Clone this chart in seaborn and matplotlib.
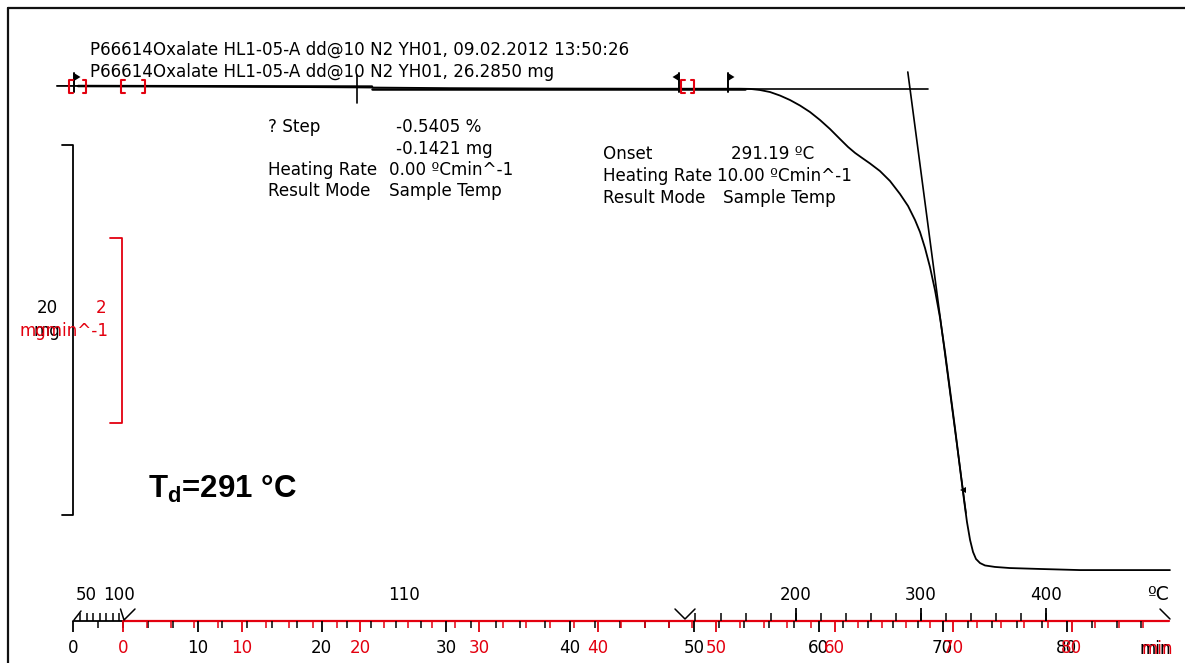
import numpy as np
import matplotlib
matplotlib.use("Agg")
import matplotlib.pyplot as plt
import matplotlib.transforms as mtransforms
from matplotlib.lines import Line2D
import seaborn as sns

# ---------------- data ----------------
# TGA mass signal against the instrument clock (min)
time_min = [-5.6, -1.97, 6.47, 14.90, 19.71, 27.55, 35.98, 44.42, 50.32,
            52.01, 52.86, 53.70, 54.55, 55.39, 56.23, 57.08, 57.92, 58.76,
            59.61, 60.45, 61.13, 61.72, 62.31, 62.98, 63.82, 64.67, 65.51,
            66.19, 66.78, 67.20, 67.62, 68.04, 68.46, 68.89, 69.31, 69.73,
            70.15, 70.57, 70.91, 71.16, 71.42, 71.67, 71.92, 72.26, 72.68,
            73.52, 74.78, 77.32, 80.69, 88.28]
mass_mg = [26.29, 26.29, 26.27, 26.23, 26.21, 26.17, 26.15, 26.14, 26.14,
           26.14, 26.13, 26.07, 25.96, 25.77, 25.53, 25.23, 24.88, 24.45,
           23.96, 23.42, 22.99, 22.67, 22.40, 22.10, 21.69, 21.15, 20.45,
           19.80, 19.04, 18.39, 17.53, 16.50, 15.26, 13.75, 11.91, 9.85,
           7.80, 5.64, 3.91, 2.72, 1.75, 1.10, 0.72, 0.50, 0.37,
           0.29, 0.23, 0.18, 0.12, 0.12]

# sample temperature program (time min -> °C)
prog_time = [-4.2, 0.2, 47.2, 89.0]
prog_temp = [30.0, 110.0, 110.0, 505.4]

# second (black) clock: t_red = clock_offset + clock_factor * t_black
clock_offset, clock_factor = -4.217, 1.0476

# evaluation results
mass_initial = 26.2850
step_level = 26.14
onset_temp = 291.19
tangent_slope = -4.86          # mg/min at the inflection

temp_major = [200, 300, 400]
temp_minor_ramp = list(range(120, 420, 20))
temp_first = [40, 50, 60, 70, 80, 90, 100]
temp_first_labels = [50, 100]
min_labels = list(range(0, 90, 10))
min_minor = list(range(0, 88, 2))

header1 = "P66614Oxalate HL1-05-A dd@10 N2 YH01, 09.02.2012 13:50:26"
header2 = "P66614Oxalate HL1-05-A dd@10 N2 YH01, 26.2850 mg"

# ---------------- figure ----------------
W, H = 1185, 663
sns.set_theme(style="white")
plt.rcParams['font.family'] = ['DejaVu Sans']
plt.rcParams['text.color'] = 'black'
RED = '#e3000f'
FS = 12.1

fig = plt.figure(figsize=(W / 100, H / 100), dpi=100)
fig.patch.set_facecolor('white')
ax = fig.add_axes([0, 0, 1, 1])
ax.set_axis_off()

x0_px, px_per_min = 123.3, 11.856
y0_px, px_per_mg = 572.3, 18.5
ax.set_xlim(-x0_px / px_per_min, (W - x0_px) / px_per_min)
ax.set_ylim((y0_px - H) / px_per_mg, y0_px / px_per_mg)


def px2t(px):
    return (px - x0_px) / px_per_min


def py2m(py):
    return (y0_px - py) / px_per_mg


def fy(py):
    return 1 - py / H


def ftext(px, py, s, **kw):
    kw.setdefault('fontsize', FS)
    kw.setdefault('va', 'center')
    kw.setdefault('color', 'black')
    return fig.text(px / W, 1 - py / H, s, **kw)


bt = mtransforms.blended_transform_factory(ax.transData, ax.transAxes)

# frame
fig.add_artist(Line2D([8.3 / W, 1], [fy(8.3), fy(8.3)], color='#111111', lw=1.6,
                      transform=fig.transFigure))
fig.add_artist(Line2D([8.3 / W, 8.3 / W], [0, fy(8.3)], color='#111111', lw=1.6,
                      transform=fig.transFigure))

# header
ftext(90, 50, header1)
ftext(90, 72, header2)

# main curve
sns.lineplot(x=time_min, y=mass_mg, ax=ax, color='black', lw=1.3,
             sort=False, estimator=None)

# step evaluation lines and midpoint cross
ax.plot([px2t(78), px2t(372)], [mass_initial, mass_initial - 0.03], color='black', lw=1.8)
ax.plot([px2t(372), px2t(745)], [step_level, step_level], color='black', lw=1.8)
t_mid = 19.71
ax.plot([t_mid, t_mid], [py2m(75), py2m(103)], color='black', lw=1.2)

# onset tangents
t_on = np.interp(onset_temp, prog_temp[2:], prog_time[2:])
ax.plot([px2t(710), px2t(928)], [step_level, step_level], color='black', lw=1.2)
m_top, m_bot = py2m(72), 3.2
ax.plot([t_on + (m_top - step_level) / tangent_slope,
         t_on + (m_bot - step_level) / tangent_slope],
        [m_top, m_bot], color='black', lw=1.2)
t_inf = t_on + (py2m(490) - step_level) / tangent_slope
ax.plot([t_inf], [py2m(490)], marker='<', color='black', ms=5, mew=0)


# flags
def flag(px, direction):
    t = px2t(px)
    ax.plot([t, t], [py2m(73), py2m(92)], color='black', lw=1.4)
    d = 6.5 / px_per_min * direction
    ax.fill([t, t + d, t], [py2m(73), py2m(77), py2m(81)], color='black', lw=0)


flag(74, 1)
flag(679, -1)
flag(728, 1)


# red evaluation brackets
def bracket(px_l, px_r):
    w = 3.5 / px_per_min
    top, bot = py2m(80), py2m(93)
    tl, tr = px2t(px_l), px2t(px_r)
    ax.plot([tl + w, tl, tl, tl + w], [top, top, bot, bot], color=RED, lw=1.5)
    ax.plot([tr - w, tr, tr, tr - w], [top, top, bot, bot], color=RED, lw=1.5)


bracket(69, 86)
bracket(121, 145)
bracket(681, 694)

# annotation blocks
for py, lab, val in [(127, "? Step", "-0.5405 %"), (149, "", "-0.1421 mg"),
                     (170, "Heating Rate", "0.00 ºCmin^-1"),
                     (191, "Result Mode", "Sample Temp")]:
    ftext(268, py, lab)
    ftext(396 if lab in ("? Step", "") else 389, py, val)

for py, lab, val, px in [(154, "Onset", "291.19 ºC", 731),
                         (176, "Heating Rate", "10.00 ºCmin^-1", 717),
                         (198, "Result Mode", "Sample Temp", 723)]:
    ftext(603, py, lab)
    ftext(px, py, val)

# scale bars
tb = px2t(73)
ax.plot([px2t(62), tb, tb, px2t(62)], [py2m(145), py2m(145), py2m(515), py2m(515)],
        color='black', lw=1.3)
tr_ = px2t(122)
ax.plot([px2t(110), tr_, tr_, px2t(110)], [py2m(238), py2m(238), py2m(423), py2m(423)],
        color=RED, lw=1.3)
ftext(47, 308, "20", ha='center')
ftext(47, 331, "mg", ha='center')
ftext(101, 308, "2", ha='center', color=RED)
ftext(64, 331, "mgmin^-1", ha='center', color=RED)

# decomposition temperature label
fig.text(148 / W, fy(498), r"T$_\mathregular{d}$=291 °C", fontsize=22.5,
         fontweight='bold', family='Liberation Sans', ha='left', va='baseline',
         color='black')

# ---------------- bottom scales ----------------
y_line = fy(620.7)
ax.plot([px2t(73), 0], [y_line, y_line], color='black', lw=1.3, transform=bt)
ax.plot([0, px2t(1169)], [y_line, y_line], color=RED, lw=1.6, transform=bt)

# black clock ticks
bm = [clock_offset + clock_factor * v for v in min_minor if v % 10]
bM = [clock_offset + clock_factor * v for v in min_labels]
ax.vlines(bm, fy(628), y_line, color='black', lw=1.1, transform=bt)
ax.vlines(bM, fy(632), y_line, color='black', lw=1.3, transform=bt)
for v, t in zip(min_labels, bM):
    ax.text(t, fy(648), str(v), transform=bt, ha='center', va='center',
            fontsize=FS, color='black')

# red clock ticks
ax.vlines([v for v in min_minor if v % 10], fy(628), y_line, color=RED, lw=1.1, transform=bt)
ax.vlines(min_labels, fy(632), y_line, color=RED, lw=1.3, transform=bt)
for v in min_labels:
    ax.text(v, fy(648), str(v), transform=bt, ha='center', va='center',
            fontsize=FS, color=RED)
ftext(1155, 649, "min", ha='center')
ftext(1157, 649, "min", ha='center', color=RED)

# temperature ticks
t_first = np.interp(temp_first, prog_temp[:2], prog_time[:2])
ax.vlines(t_first, y_line, fy(613), color='black', lw=1.1, transform=bt)
for v in temp_first_labels:
    t = np.interp(v, prog_temp[:2], prog_time[:2])
    ax.text(t, fy(595), str(v), transform=bt, ha='center', va='center',
            fontsize=FS, color='black')
t_ramp = np.interp(temp_minor_ramp, prog_temp[2:], prog_time[2:])
ax.vlines(t_ramp, y_line, fy(613), color='black', lw=1.1, transform=bt)
t_maj = np.interp(temp_major, prog_temp[2:], prog_time[2:])
ax.vlines(t_maj, y_line, fy(608), color='black', lw=1.3, transform=bt)
for v, t in zip(temp_major, t_maj):
    ax.text(t, fy(595), str(v), transform=bt, ha='center', va='center',
            fontsize=FS, color='black')
t_iso = 0.5 * (prog_time[1] + prog_time[2])
ax.text(t_iso, fy(595), str(int(prog_temp[1])), transform=bt, ha='center',
        va='center', fontsize=FS, color='black')
ftext(1158, 595, "ºC", ha='center', fontsize=13.5)

# segment markers
ax.plot([px2t(120.5), px2t(124), px2t(135)], [fy(609), fy(620), fy(609)],
        color='black', lw=1.1, transform=bt)
ax.plot([px2t(675), px2t(685), px2t(695)], [fy(609), fy(619), fy(609)],
        color='black', lw=1.1, transform=bt)
ax.plot([px2t(1160), px2t(1170)], [fy(609), fy(619)], color='black', lw=1.1, transform=bt)
ax.plot([px2t(74), px2t(81)], [fy(620), fy(611)], color='black', lw=1.1, transform=bt)

fig.savefig("out.png", dpi=100, facecolor='white')
